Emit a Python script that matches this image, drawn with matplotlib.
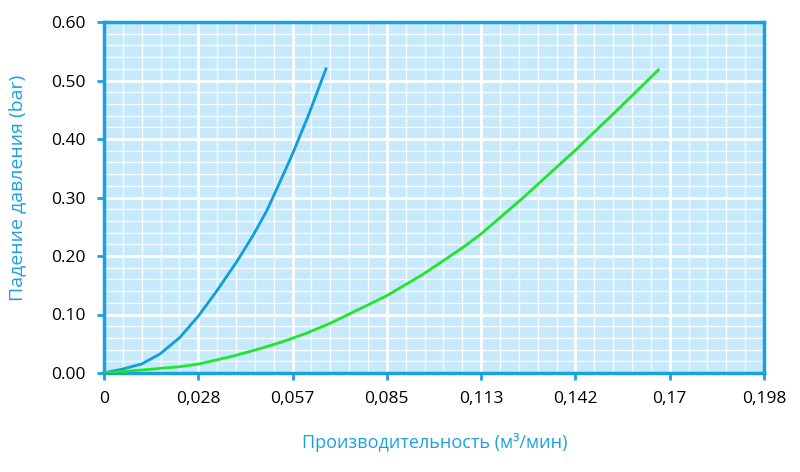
import numpy as np
import matplotlib.pyplot as plt
from matplotlib.ticker import FixedLocator, AutoMinorLocator

plt.rcParams['font.family'] = ['Open Sans', 'DejaVu Sans']

# данные
x_labels = ['0', '0,028', '0,057', '0,085', '0,113', '0,142', '0,17', '0,198']
y_labels = ['0.00', '0.10', '0.20', '0.30', '0.40', '0.50', '0.60']

blue_q = [0, 0.0056, 0.0113, 0.0168, 0.0228, 0.0284, 0.0338, 0.0398, 0.0448,
          0.0488, 0.0525, 0.0563, 0.0613, 0.0666]
blue_p = [0, 0.0068, 0.0154, 0.0325, 0.061, 0.098, 0.140, 0.190, 0.236,
          0.277, 0.323, 0.371, 0.440, 0.520]

green_q = [0, 0.0113, 0.0228, 0.0284, 0.0388, 0.0458, 0.0528, 0.0603, 0.0678,
           0.0848, 0.0958, 0.1078, 0.1133, 0.1258, 0.1418, 0.1528, 0.1663]
green_p = [0, 0.0051, 0.0108, 0.0154, 0.029, 0.040, 0.052, 0.067, 0.0848,
           0.132, 0.169, 0.215, 0.2386, 0.300, 0.383, 0.443, 0.518]

accent = '#1ba1e2'

fig = plt.figure(figsize=(8, 4.72), dpi=100)
ax = fig.add_axes([104/800, 1-373/472, 660/800, 351/472])
ax.set_facecolor('#c6e9fb')

ax.set_xlim(0, 0.198)
ax.set_ylim(0, 0.6)
ax.xaxis.set_major_locator(FixedLocator(np.linspace(0, 0.198, 8)))
ax.set_xticklabels(x_labels)
ax.yaxis.set_major_locator(FixedLocator(np.linspace(0, 0.6, 7)))
ax.set_yticklabels(y_labels)
ax.xaxis.set_minor_locator(AutoMinorLocator(5))
ax.yaxis.set_minor_locator(AutoMinorLocator(5))

ax.grid(which='major', color='white', linewidth=2.0, zorder=1)
ax.grid(which='minor', color='white', linewidth=1.0, alpha=0.9, zorder=1)
ax.set_axisbelow(True)

ax.plot(blue_q, blue_p, color='#0e9ddd', linewidth=2.0, zorder=3,
        solid_joinstyle='round')
ax.plot(green_q, green_p, color='#1ee628', linewidth=2.0, zorder=3,
        solid_joinstyle='round')

for s in ax.spines.values():
    s.set_color(accent)
    s.set_linewidth(2.5)

ax.tick_params(which='major', direction='out', length=5, width=2, color=accent,
               labelsize=12.5, labelcolor='black', pad=8)
ax.tick_params(which='minor', length=0)

fig.text(435/800, 1-443/472, 'Производительность (м³/мин)', color=accent,
         fontsize=13, ha='center', va='center')
fig.text(17/800, 1-188/472, 'Падение давления (bar)', color=accent,
         fontsize=14, ha='center', va='center', rotation=90)

plt.savefig('out.png', dpi=100)
